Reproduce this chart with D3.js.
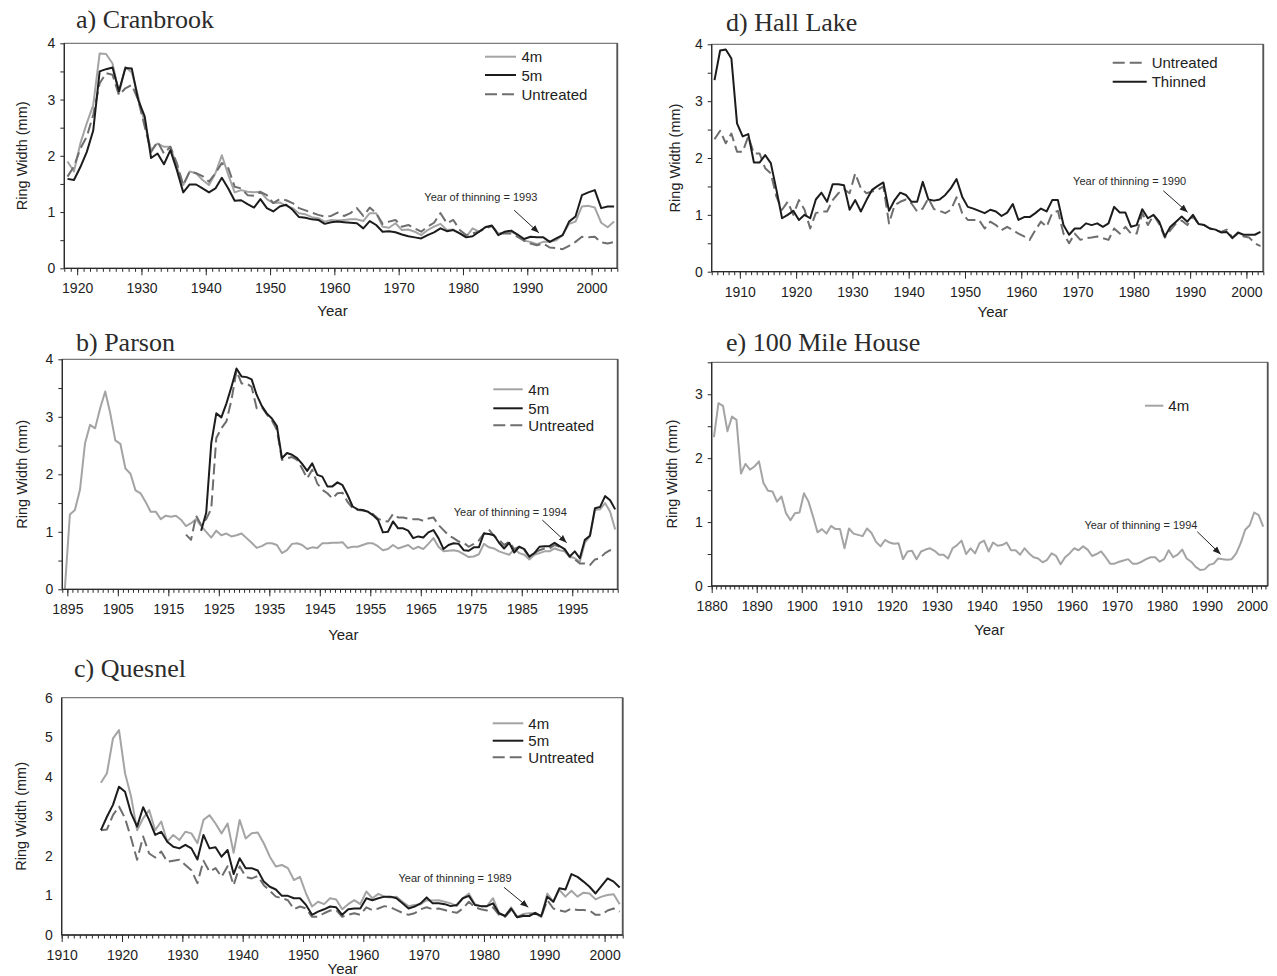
<!DOCTYPE html>
<html><head><meta charset="utf-8">
<script src="https://cdn.jsdelivr.net/npm/d3@7"></script>
<style>body{margin:0;background:#fff}svg{display:block}</style>
</head><body>
<svg id="chart" width="1277" height="976"></svg>
<script>
// ---------------- DATA ----------------
// a) Cranbrook, first year 1918
const cranbrookStart = 1918;
const cranbrook4m = [1.90,1.72,2.22,2.58,2.90,3.82,3.81,3.64,3.11,3.58,
3.48,3.05,2.58,2.10,2.22,2.16,2.16,1.81,1.48,1.72,
1.69,1.57,1.48,1.69,2.01,1.66,1.35,1.39,1.36,1.35,
1.36,1.23,1.16,1.17,1.11,1.07,0.98,0.96,0.91,0.89,
0.83,0.86,0.85,0.86,0.87,0.87,0.84,0.98,0.98,0.74,
0.72,0.80,0.68,0.69,0.65,0.59,0.68,0.74,0.79,0.68,
0.69,0.62,0.56,0.71,0.65,0.74,0.75,0.62,0.63,0.65,
0.59,0.49,0.47,0.43,0.47,0.47,0.50,0.59,0.79,0.83,
1.10,1.11,1.08,0.81,0.73,0.83];
const cranbrook5m = [1.59,1.57,1.80,2.07,2.45,3.50,3.54,3.57,3.15,3.56,
3.55,2.99,2.70,1.96,2.04,1.85,2.10,1.75,1.35,1.49,
1.49,1.42,1.35,1.42,1.61,1.42,1.20,1.21,1.14,1.08,
1.23,1.07,1.01,1.10,1.13,1.04,0.91,0.90,0.87,0.86,
0.79,0.82,0.83,0.82,0.81,0.80,0.71,0.84,0.77,0.65,
0.66,0.64,0.60,0.57,0.55,0.53,0.59,0.64,0.71,0.66,
0.68,0.62,0.55,0.57,0.65,0.73,0.76,0.59,0.65,0.67,
0.60,0.52,0.56,0.55,0.55,0.47,0.53,0.59,0.83,0.92,
1.30,1.35,1.39,1.07,1.10,1.10];
const cranbrookUntreated = [1.63,1.81,2.13,2.34,2.73,3.29,3.47,3.44,3.08,3.20,
3.26,2.99,2.52,2.07,2.25,2.04,2.16,1.87,1.48,1.72,
1.69,1.64,1.54,1.69,1.87,1.78,1.45,1.42,1.30,1.29,
1.36,1.30,1.16,1.23,1.21,1.16,1.07,1.03,0.99,0.95,
0.92,0.93,0.99,0.93,0.98,1.07,0.93,1.08,0.98,0.79,
0.83,0.86,0.74,0.77,0.71,0.65,0.74,0.81,0.98,0.80,
0.86,0.68,0.59,0.62,0.65,0.71,0.75,0.62,0.62,0.62,
0.56,0.49,0.44,0.41,0.44,0.37,0.36,0.34,0.40,0.47,
0.56,0.55,0.56,0.46,0.44,0.47];
const cranbrookTicks = [1920,1930,1940,1950,1960,1970,1980,1990,2000];

// b) Parson
const parson4mStart = 1894;
const parson4m = [0.00,1.30,1.38,1.73,2.54,2.86,2.80,3.15,3.44,3.06,
2.59,2.53,2.10,2.01,1.72,1.67,1.52,1.35,1.35,1.22,
1.28,1.26,1.28,1.21,1.10,1.15,1.22,1.10,1.00,0.90,
1.02,0.94,0.97,0.92,0.94,0.97,0.89,0.81,0.72,0.75,
0.80,0.80,0.77,0.63,0.68,0.79,0.80,0.77,0.70,0.73,
0.72,0.80,0.80,0.81,0.81,0.82,0.72,0.74,0.74,0.77,
0.80,0.80,0.75,0.68,0.70,0.77,0.71,0.74,0.77,0.70,
0.74,0.70,0.79,0.89,0.74,0.66,0.67,0.68,0.66,0.61,
0.56,0.57,0.61,0.79,0.73,0.71,0.66,0.63,0.60,0.70,
0.63,0.60,0.52,0.60,0.63,0.66,0.66,0.71,0.68,0.66,
0.57,0.54,0.48,0.81,0.92,1.38,1.39,1.50,1.35,1.04];
const parson5mStart = 1921;
const parson5m = [1.02,1.33,2.54,3.06,2.99,3.23,3.52,3.84,3.70,3.69,
3.65,3.38,3.19,3.06,2.97,2.84,2.28,2.37,2.34,2.28,
2.18,2.06,2.19,1.99,1.96,1.79,1.79,1.86,1.81,1.64,
1.44,1.39,1.38,1.35,1.29,1.21,0.99,1.00,1.18,1.06,
1.06,1.02,0.89,0.92,0.90,0.99,1.03,0.89,0.70,0.77,
0.80,0.79,0.68,0.67,0.73,0.73,0.97,0.96,0.94,0.81,
0.71,0.81,0.64,0.74,0.70,0.57,0.63,0.74,0.75,0.75,
0.81,0.75,0.70,0.57,0.66,0.54,0.86,0.93,1.41,1.43,
1.62,1.55,1.39];
const parsonUntreatedStart = 1918;
const parsonUntreated = [0.95,0.86,1.28,1.12,1.22,1.40,2.63,2.80,2.92,3.29,
3.80,3.58,3.58,3.52,3.15,3.17,3.04,2.94,2.77,2.25,
2.28,2.30,2.25,2.10,1.93,2.08,1.84,1.73,1.67,1.58,
1.67,1.68,1.52,1.41,1.38,1.37,1.35,1.31,1.23,1.19,
1.18,1.31,1.25,1.25,1.23,1.22,1.22,1.19,1.23,1.25,
1.12,1.03,0.94,0.89,0.83,0.81,0.74,0.79,0.85,0.97,
1.04,0.93,0.86,0.77,0.83,0.70,0.74,0.68,0.56,0.63,
0.68,0.71,0.71,0.77,0.74,0.68,0.56,0.52,0.45,0.45,
0.42,0.52,0.54,0.63,0.68,0.64];
const parsonTicks = [1895,1905,1915,1925,1935,1945,1955,1965,1975,1985,1995];

// c) Quesnel, first year 1916
const quesnelStart = 1916;
const quesnel4m = [3.85,4.09,4.97,5.18,4.09,3.50,2.65,2.95,3.16,2.65,
2.87,2.36,2.53,2.40,2.61,2.57,2.32,2.91,3.03,2.82,
2.57,2.82,2.08,2.91,2.44,2.57,2.59,2.32,1.98,1.73,
1.77,1.69,1.39,1.47,1.05,0.72,0.84,0.78,0.93,0.90,
0.65,0.78,0.88,0.78,1.10,0.93,1.04,0.97,0.95,0.97,
0.84,0.73,0.76,0.78,0.88,0.87,0.88,0.84,0.80,0.73,
0.93,1.05,0.78,0.73,0.73,0.93,0.55,0.48,0.70,0.46,
0.53,0.55,0.55,0.45,1.05,0.84,1.14,0.97,1.12,0.97,
1.07,1.05,0.90,0.97,1.01,1.03,0.78];
const quesnel5m = [2.65,2.99,3.29,3.75,3.62,3.08,2.74,3.23,2.91,2.53,
2.61,2.36,2.23,2.19,2.28,2.19,1.91,2.53,2.19,2.22,
1.98,2.15,1.54,1.94,1.69,1.69,1.63,1.35,1.22,1.15,
0.99,0.99,0.93,0.93,0.76,0.51,0.59,0.65,0.72,0.70,
0.51,0.65,0.67,0.67,0.93,0.88,0.93,0.97,0.97,0.93,
0.80,0.67,0.72,0.80,0.95,0.80,0.80,0.78,0.73,0.76,
0.93,0.99,0.76,0.73,0.73,0.80,0.55,0.48,0.67,0.45,
0.48,0.48,0.56,0.48,0.97,0.84,1.18,1.15,1.54,1.47,
1.35,1.22,1.05,1.24,1.43,1.35,1.20];
const quesnelUntreated = [2.65,2.67,3.03,3.25,2.95,2.45,1.90,2.49,2.06,1.96,
2.11,1.85,1.88,1.90,1.77,1.64,1.31,1.88,1.60,1.69,
1.47,1.74,1.26,1.74,1.47,1.43,1.49,1.26,1.12,0.97,
0.93,0.88,0.65,0.72,0.67,0.46,0.46,0.55,0.62,0.63,
0.46,0.51,0.55,0.51,0.70,0.63,0.67,0.73,0.70,0.63,
0.56,0.51,0.55,0.65,0.70,0.65,0.67,0.63,0.59,0.56,
0.67,0.84,0.70,0.65,0.62,0.70,0.51,0.46,0.63,0.45,
0.51,0.51,0.55,0.46,0.88,0.67,0.62,0.59,0.67,0.63,
0.63,0.62,0.51,0.51,0.62,0.67,0.59];
const quesnelTicks = [1910,1920,1930,1940,1950,1960,1970,1980,1990,2000];

// d) Hall Lake, first year 1905
const hallStart = 1905;
const hallUntreated = [2.33,2.48,2.26,2.43,2.11,2.11,2.38,2.08,2.08,1.82,
1.73,1.32,1.09,1.23,1.00,1.26,1.09,0.76,1.03,1.06,
1.06,1.26,1.38,1.45,1.38,1.73,1.47,1.38,1.41,1.44,
1.50,0.85,1.17,1.23,1.27,1.20,1.06,1.11,1.29,1.10,
1.07,1.03,1.09,1.31,1.03,0.91,0.91,0.91,0.76,0.88,
0.82,0.73,0.79,0.73,0.67,0.62,0.56,0.73,0.88,0.79,
1.03,1.07,0.67,0.50,0.67,0.56,0.59,0.60,0.62,0.59,
0.56,0.76,0.67,0.79,0.67,0.67,1.03,0.82,1.00,0.84,
0.60,0.73,0.85,0.90,0.82,0.97,0.84,0.82,0.76,0.73,
0.70,0.74,0.60,0.67,0.62,0.60,0.50,0.45];
const hallThinned = [3.37,3.89,3.91,3.75,2.61,2.38,2.42,1.92,1.92,2.05,
1.91,1.44,0.94,1.00,1.07,0.91,1.00,0.94,1.27,1.39,
1.23,1.54,1.54,1.52,1.09,1.26,1.06,1.26,1.44,1.51,
1.57,1.07,1.26,1.39,1.35,1.23,1.23,1.58,1.27,1.25,
1.27,1.35,1.47,1.63,1.32,1.14,1.11,1.07,1.03,1.09,
1.06,0.98,1.04,1.19,0.91,0.96,0.96,1.03,1.11,1.06,
1.26,1.26,0.82,0.65,0.76,0.76,0.85,0.82,0.85,0.79,
0.85,1.14,1.04,1.04,0.79,0.82,1.10,0.94,1.00,0.88,
0.62,0.79,0.88,0.97,0.88,1.00,0.84,0.82,0.76,0.74,
0.69,0.70,0.59,0.69,0.65,0.65,0.65,0.70];
const hallTicks = [1910,1920,1930,1940,1950,1960,1970,1980,1990,2000];

// e) 100 Mile House, first year 1880
const mileStart = 1880;
const mile4m = [2.33,2.86,2.82,2.42,2.65,2.60,1.76,1.91,1.82,1.87,
1.95,1.61,1.49,1.48,1.32,1.40,1.14,1.03,1.14,1.15,
1.45,1.32,1.09,0.84,0.89,0.82,0.94,0.89,0.89,0.59,
0.90,0.82,0.80,0.78,0.90,0.83,0.69,0.62,0.72,0.68,
0.66,0.67,0.42,0.54,0.55,0.42,0.54,0.57,0.59,0.55,
0.49,0.49,0.43,0.59,0.64,0.71,0.50,0.59,0.51,0.67,
0.71,0.54,0.68,0.63,0.64,0.68,0.56,0.56,0.49,0.59,
0.51,0.45,0.43,0.37,0.41,0.51,0.47,0.34,0.45,0.51,
0.59,0.56,0.62,0.57,0.47,0.50,0.54,0.45,0.35,0.35,
0.38,0.40,0.42,0.35,0.35,0.38,0.42,0.45,0.45,0.38,
0.42,0.56,0.45,0.49,0.57,0.43,0.38,0.30,0.25,0.26,
0.33,0.35,0.43,0.42,0.41,0.42,0.51,0.67,0.88,0.95,
1.15,1.11,0.93];
const mileTicks = [1880,1890,1900,1910,1920,1930,1940,1950,1960,1970,1980,1990,2000];

// ---------------- STYLE ----------------
const GRAY4 = '#a4a4a4', BLACK5 = '#1c1c1c', DASHU = '#6e6e6e';
const SANS = '"Liberation Sans", Arial, sans-serif';
const SERIF = '"Liberation Serif", "Times New Roman", serif';

const svg = d3.select('#chart');
const defs = svg.append('defs');
defs.append('marker').attr('id','arrow').attr('viewBox','0 0 10 10')
  .attr('refX',10).attr('refY',5).attr('markerWidth',8).attr('markerHeight',8)
  .attr('markerUnits','userSpaceOnUse').attr('orient','auto')
  .append('path').attr('d','M0,1 L10,5 L0,9 Z').attr('fill','#222');

function panel(p) {
  const g = svg.append('g');
  const x = d3.scaleLinear().domain(p.xDomain).range([p.left, p.right]);
  const y = d3.scaleLinear().domain(p.yDomain).range([p.bottom, p.top]);

  // frame
  g.append('rect').attr('x', p.left).attr('y', p.top)
    .attr('width', p.right - p.left).attr('height', p.bottom - p.top)
    .attr('fill', 'none').attr('stroke', '#5a5a5a').attr('stroke-width', 1);
  g.append('line').attr('x1', p.right).attr('x2', p.right).attr('y1', p.top).attr('y2', p.bottom)
    .attr('stroke', '#555').attr('stroke-width', 1.8);

  // series
  p.series.forEach(s => {
    const line = d3.line().x((d, i) => x(s.start + i + 0.5)).y(d => y(d));
    g.append('path').datum(s.values).attr('d', line)
      .attr('fill', 'none').attr('stroke', s.color).attr('stroke-width', 2)
      .attr('stroke-dasharray', s.dash || null).attr('stroke-linejoin', 'round');
  });

  // x axis
  const minor = d3.range(Math.ceil(p.xDomain[0]), Math.floor(p.xDomain[1]) + 1);
  const xa1 = g.append('g').attr('transform', `translate(0,${p.bottom})`)
    .call(d3.axisBottom(x).tickValues(minor).tickSize(3.5).tickFormat(''));
  const xa2 = g.append('g').attr('transform', `translate(0,${p.bottom})`)
    .call(d3.axisBottom(x).tickValues(p.xTicks).tickSize(7).tickPadding(8).tickFormat(d3.format('d')));
  // y axis
  const yt = d3.range(p.yDomain[0], p.yDomain[1] + 0.001, p.yStep);
  const ytSize = p.yTickSize === undefined ? 4 : p.yTickSize;
  const ya = g.append('g').attr('transform', `translate(${p.left},0)`)
    .call(d3.axisLeft(y).tickValues(yt).tickSize(ytSize).tickPadding(9 - ytSize)
      .tickFormat(d => Number.isInteger(d) ? d : ''));
  [xa1, xa2, ya].forEach(a => {
    a.select('.domain').remove();
    a.selectAll('line').attr('stroke', '#2a2a2a').attr('stroke-width', 1);
    a.selectAll('text').attr('font-family', SANS).attr('font-size', 14).attr('fill', '#1e1e1e');
  });
  g.append('line').attr('x1', p.left).attr('x2', p.right).attr('y1', p.bottom).attr('y2', p.bottom)
    .attr('stroke', '#2a2a2a').attr('stroke-width', 1.3);
  g.append('line').attr('x1', p.left).attr('x2', p.left).attr('y1', p.top).attr('y2', p.bottom)
    .attr('stroke', '#2a2a2a').attr('stroke-width', 1.3);

  // labels
  g.append('text').attr('x', p.titleX).attr('y', p.titleY).text(p.title)
    .attr('font-family', SERIF).attr('font-size', 26).attr('fill', '#2b2b2b');
  g.append('text').attr('transform', `translate(${p.yLabelX},${(p.top + p.bottom) / 2}) rotate(-90)`)
    .attr('text-anchor', 'middle').attr('dominant-baseline', 'middle')
    .attr('font-family', SANS).attr('font-size', 14.5).attr('fill', '#222').text('Ring Width (mm)');
  g.append('text').attr('x', p.xLabelX).attr('y', p.xLabelY).attr('text-anchor', 'middle')
    .attr('font-family', SANS).attr('font-size', 15).attr('fill', '#222').text('Year');

  // legend
  p.legend.items.forEach((it, i) => {
    const ly = p.legend.rows[i];
    g.append('line').attr('x1', p.legend.x1).attr('x2', p.legend.x2).attr('y1', ly).attr('y2', ly)
      .attr('stroke', it.color).attr('stroke-width', 2).attr('stroke-dasharray', it.dash || null);
    g.append('text').attr('x', p.legend.tx).attr('y', ly + 5.5).text(it.label)
      .attr('font-family', SANS).attr('font-size', 15).attr('fill', '#222');
  });

  // annotation
  const a = p.note;
  const tx = x(a.year), ty = y(a.value);
  g.append('line').attr('x1', tx + a.tail[0]).attr('y1', ty + a.tail[1])
    .attr('x2', tx).attr('y2', ty).attr('stroke', '#222').attr('stroke-width', 1)
    .attr('marker-end', 'url(#arrow)');
  g.append('text').attr('x', tx + a.text[0]).attr('y', ty + a.text[1]).attr('text-anchor', 'middle')
    .attr('font-family', SANS).attr('font-size', 11).attr('fill', '#2a2a2a').text(a.label);
}

const dashU = '11,5';
const legend3 = [
  {label: '4m', color: GRAY4},
  {label: '5m', color: BLACK5},
  {label: 'Untreated', color: DASHU, dash: '12,5'}
];

panel({
  title: 'a) Cranbrook', titleX: 76, titleY: 28,
  left: 64.3, right: 617.3, top: 43.3, bottom: 268.3,
  xDomain: [1918, 2004], yDomain: [0, 4], yStep: 0.5, xTicks: cranbrookTicks,
  yLabelX: 23.5, xLabelX: 332.5, xLabelY: 316,
  series: [
    {start: cranbrookStart, values: cranbrook4m, color: GRAY4},
    {start: cranbrookStart, values: cranbrookUntreated, color: DASHU, dash: dashU},
    {start: cranbrookStart, values: cranbrook5m, color: BLACK5}
  ],
  legend: {x1: 485, x2: 516, tx: 521.5, rows: [56.7, 75, 94.3], items: legend3},
  note: {label: 'Year of thinning = 1993', year: 1991.8, value: 0.63, tail: [-24.7, -22.7], text: [-58, -31.7]}
});

panel({
  title: 'b) Parson', titleX: 76, titleY: 350.7,
  left: 62.3, right: 617.7, top: 359.3, bottom: 589.3,
  xDomain: [1894, 2004], yDomain: [0, 4], yStep: 0.5, xTicks: parsonTicks,
  yLabelX: 23.5, xLabelX: 343.3, xLabelY: 640,
  series: [
    {start: parson4mStart, values: parson4m, color: GRAY4},
    {start: parsonUntreatedStart, values: parsonUntreated, color: DASHU, dash: dashU},
    {start: parson5mStart, values: parson5m, color: BLACK5}
  ],
  legend: {x1: 493.3, x2: 522.7, tx: 528.3, rows: [389.3, 408.3, 425.3], items: legend3},
  note: {label: 'Year of thinning = 1994', year: 1993.9, value: 0.81, tail: [-24.4, -22.7], text: [-56.4, -26.7]}
});

panel({
  title: 'c) Quesnel', titleX: 74, titleY: 676.7,
  left: 61.7, right: 622.7, top: 697.7, bottom: 935,
  xDomain: [1910, 2003], yDomain: [0, 6], yStep: 1, yTickSize: 0, xTicks: quesnelTicks,
  yLabelX: 21.7, xLabelX: 342.7, xLabelY: 974,
  series: [
    {start: quesnelStart, values: quesnel4m, color: GRAY4},
    {start: quesnelStart, values: quesnelUntreated, color: DASHU, dash: dashU},
    {start: quesnelStart, values: quesnel5m, color: BLACK5}
  ],
  legend: {x1: 492.7, x2: 523.3, tx: 528.3, rows: [723.3, 740.7, 757.3], items: legend3},
  note: {label: 'Year of thinning = 1989', year: 1987.35, value: 0.70, tail: [-24.3, -20], text: [-73.3, -25.3]}
});

panel({
  title: 'd) Hall Lake', titleX: 726, titleY: 30.7,
  left: 711.7, right: 1263.3, top: 44.3, bottom: 271.7,
  xDomain: [1905, 2003], yDomain: [0, 4], yStep: 0.5, xTicks: hallTicks,
  yLabelX: 676, xLabelX: 992.7, xLabelY: 317,
  series: [
    {start: hallStart, values: hallUntreated, color: DASHU, dash: dashU},
    {start: hallStart, values: hallThinned, color: BLACK5}
  ],
  legend: {x1: 1112.7, x2: 1146.7, tx: 1151.7, rows: [62.7, 81.7], items: [
    {label: 'Untreated', color: DASHU, dash: '12,5'},
    {label: 'Thinned', color: BLACK5}
  ]},
  note: {label: 'Year of thinning = 1990', year: 1989.56, value: 1.045, tail: [-24.4, -21.6], text: [-58, -27.3]}
});

panel({
  title: 'e) 100 Mile House', titleX: 726, titleY: 350.7,
  left: 711.7, right: 1267.7, top: 362.3, bottom: 586,
  xDomain: [1880, 2003.5], yDomain: [0, 3.5], yStep: 0.5, xTicks: mileTicks,
  yLabelX: 672.7, xLabelX: 989.3, xLabelY: 635,
  series: [
    {start: mileStart, values: mile4m, color: GRAY4}
  ],
  legend: {x1: 1145, x2: 1163.3, tx: 1168.3, rows: [405.7], items: [
    {label: '4m', color: GRAY4}
  ]},
  note: {label: 'Year of thinning = 1994', year: 1993.05, value: 0.496, tail: [-23.4, -22.6], text: [-79.7, -24.8]}
});
</script>
</body></html>
